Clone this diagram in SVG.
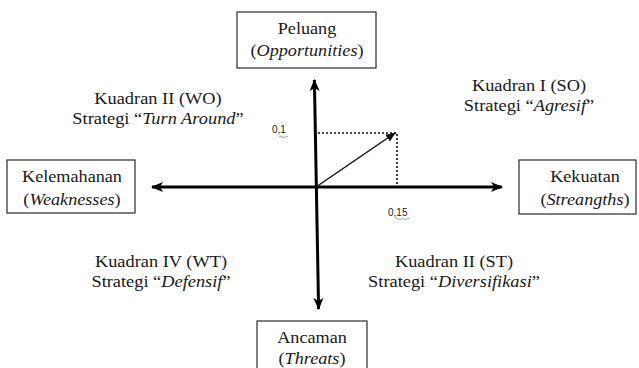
<svg xmlns="http://www.w3.org/2000/svg" width="639" height="368" viewBox="0 0 639 368">
<style>
.box{fill:#fff;stroke:#2a2a2a;stroke-width:1.2}
.t{font-family:'Liberation Serif','Times New Roman',serif;font-size:17px;fill:#1a1a1a;text-anchor:middle}
.i{font-style:italic}
.axis{stroke:#000;stroke-width:3;fill:none}
.dot{stroke:#111;stroke-width:1.6;stroke-dasharray:2 2;fill:none}
.vec{stroke:#111;stroke-width:1.5;fill:none}
.num{font-family:'Liberation Sans',Arial,sans-serif;font-size:10px;fill:#222}
.sq{stroke:#5aa85a;stroke-width:0.8;fill:none}
</style>
<defs>
<marker id="ah" markerUnits="userSpaceOnUse" markerWidth="12" markerHeight="12" viewBox="0 0 12 12" refX="11" refY="6" orient="auto-start-reverse">
<path d="M0,1 L12,6 L0,11 L3,6 Z" fill="#000"/>
</marker>
<marker id="ah2" markerUnits="userSpaceOnUse" markerWidth="10" markerHeight="10" viewBox="0 0 10 10" refX="9" refY="5" orient="auto">
<path d="M0,1 L10,5 L0,9 Z" fill="#111"/>
</marker>
</defs>
<rect width="639" height="368" fill="#fff"/>

<g id="connectors">
<line class="axis" x1="314.4" y1="80" x2="318.6" y2="309" marker-start="url(#ah)" marker-end="url(#ah)"/>
<line class="axis" x1="152" y1="187" x2="502" y2="187" marker-start="url(#ah)" marker-end="url(#ah)"/>
<polyline class="dot" points="318,133 397,133 397,187"/>
<line class="vec" x1="316" y1="187" x2="395" y2="133" marker-end="url(#ah2)"/>
<text class="num" x="272" y="133">0,1</text>
<path class="sq" d="M279,137 q1.5,-1.5 3,0 t3,0 t3,0"/>
<text class="num" x="388" y="216">0,15</text>
<path class="sq" d="M395,219 q1.5,-1.5 3,0 t3,0 t3,0 t3,0 t3,0"/>
</g>

<g id="peluang">
<rect class="box" x="237" y="12" width="139" height="56"/>
<g transform="translate(307,0) scale(1.07,1)">
<text class="t" x="0" y="34">Peluang</text>
<text class="t" x="0" y="56">(<tspan class="i">Opportunities</tspan>)</text>
</g>
</g>

<g id="kelemahanan">
<rect class="box" x="7" y="160" width="128" height="53"/>
<g transform="translate(72,0) scale(1.07,1)">
<text class="t" x="0" y="182">Kelemahanan</text>
<text class="t" x="0" y="205">(<tspan class="i">Weaknesses</tspan>)</text>
</g>
</g>

<g id="kekuatan">
<rect class="box" x="519" y="160" width="117" height="54"/>
<g transform="translate(585,0) scale(1.07,1)">
<text class="t" x="0" y="182">Kekuatan</text>
<text class="t" x="0" y="205">(<tspan class="i">Streangths</tspan>)</text>
</g>
</g>

<g id="ancaman">
<rect class="box" x="257" y="321" width="110" height="52"/>
<g transform="translate(312,0) scale(1.07,1)">
<text class="t" x="0" y="343">Ancaman</text>
<text class="t" x="0" y="364">(<tspan class="i">Threats</tspan>)</text>
</g>
</g>

<g id="kuadran-wo">
<g transform="translate(158,0) scale(1.08,1)">
<text class="t" x="0" y="104">Kuadran II (WO)</text>
<text class="t" x="0" y="124">Strategi “<tspan class="i">Turn Around</tspan>”</text>
</g>
</g>

<g id="kuadran-so">
<g transform="translate(529,0) scale(1.08,1)">
<text class="t" x="0" y="91">Kuadran I (SO)</text>
<text class="t" x="0" y="111">Strategi “<tspan class="i">Agresif</tspan>”</text>
</g>
</g>

<g id="kuadran-wt">
<g transform="translate(161,0) scale(1.08,1)">
<text class="t" x="0" y="267">Kuadran IV (WT)</text>
<text class="t" x="0" y="287">Strategi “<tspan class="i">Defensif</tspan>”</text>
</g>
</g>

<g id="kuadran-st">
<g transform="translate(454,0) scale(1.08,1)">
<text class="t" x="0" y="267">Kuadran II (ST)</text>
<text class="t" x="0" y="287">Strategi “<tspan class="i">Diversifikasi</tspan>”</text>
</g>
</g>
</svg>
